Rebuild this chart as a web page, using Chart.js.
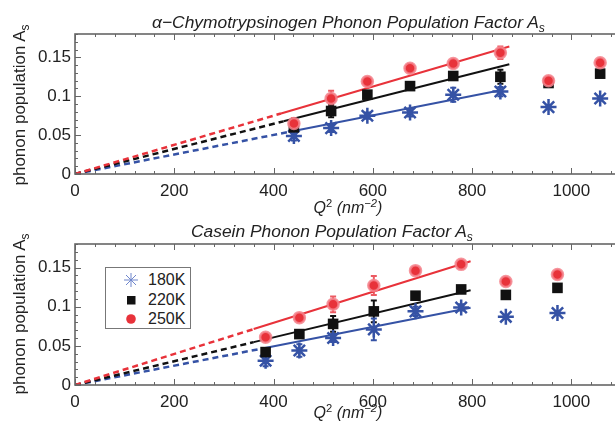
<!DOCTYPE html>
<html>
<head>
<meta charset="utf-8">
<script src="https://cdn.jsdelivr.net/npm/chart.js@4/dist/chart.umd.min.js"></script>
<style>
body { margin: 0; width: 615px; height: 429px; overflow: hidden; background: #fff; position: relative; font-family: "Liberation Sans", Arial, sans-serif; color: #222; }
.panel { position: absolute; left: 0; width: 640px; }
#topPanel { top: 0; height: 215px; }
#bottomPanel { top: 215px; height: 214px; }
.title { position: absolute; font-style: italic; font-size: 17.4px; line-height: 20px; white-space: nowrap; }
.xlabel { position: absolute; font-size: 16px; white-space: nowrap; transform: translate(-50%, -50%); }
.ylabel { position: absolute; font-size: 17px; white-space: nowrap; transform: translate(-50%, -50%) rotate(-90deg); }
sub, sup { font-size: 70%; line-height: 0; }
#legend { position: absolute; left: 105px; top: 267px; width: 84px; height: 60px; border: 1.5px solid #777; background: #fff; font-size: 16px; }
.row { position: absolute; left: 0; height: 18px; line-height: 18px; }
.row svg { position: absolute; left: 16px; top: 0; }
.row span { position: absolute; left: 42px; }
</style>
</head>
<body>
<div id="topPanel" class="panel"><canvas id="chymoChart"></canvas></div>
<div id="bottomPanel" class="panel"><canvas id="caseinChart"></canvas></div>

<div class="title" style="left:152px; top:12px;">α−Chymotrypsinogen Phonon Population Factor A<sub>s</sub></div>
<div class="title" style="left:191px; top:221px;">Casein Phonon Population Factor A<sub>s</sub></div>
<div class="xlabel" style="left:348px; top:208px;"><i>Q</i><sup>2</sup> <i>(nm<sup>−2</sup>)</i></div>
<div class="xlabel" style="left:348px; top:413px;"><i>Q</i><sup>2</sup> <i>(nm<sup>−2</sup>)</i></div>
<div class="ylabel" style="left:20px; top:105px;">phonon population A<sub>s</sub></div>
<div class="ylabel" style="left:20px; top:314px;">phonon population A<sub>s</sub></div>

<div id="legend">
    <div class="row" style="top:3px;"><svg width="18" height="18"><g stroke="#6f86cc" stroke-width="1"><line x1="9" y1="2" x2="9" y2="16"/><line x1="2" y1="9" x2="16" y2="9"/><line x1="4" y1="4" x2="14" y2="14"/><line x1="4" y1="14" x2="14" y2="4"/></g></svg><span>180K</span></div>
    <div class="row" style="top:22.5px;"><svg width="18" height="18"><rect x="5" y="5" width="8.5" height="8.5" fill="#111"/></svg><span>220K</span></div>
    <div class="row" style="top:42px;"><svg width="18" height="18"><circle cx="9" cy="9" r="4.8" fill="#e8323a"/></svg><span>250K</span></div>
</div>

<script>
// alpha-chymotrypsinogen (top panel)
var chymoQ2 = [441, 516, 589, 675, 762, 857, 954, 1058];
var chymo180 = [0.049, 0.059, 0.075, 0.079, 0.102, 0.106, 0.086, 0.097];
var chymo220 = [0.060, 0.081, 0.102, 0.113, 0.126, 0.125, 0.117, 0.129];
var chymo250 = [0.065, 0.097, 0.119, 0.136, 0.142, 0.156, 0.120, 0.143];
var chymoErr180 = [0.006, 0.005, 0.004, 0.005, 0.009, 0.006, 0, 0];
var chymoErr220 = [0.005, 0.008, 0.004, 0.004, 0.004, 0.009, 0, 0];
var chymoErr250 = [0.007, 0.010, 0.005, 0.005, 0.004, 0.008, 0, 0];
var chymoFit180 = [[0, 0], [430, 0.054], [860, 0.108]];
var chymoFit220 = [[0, 0], [420, 0.0677], [875, 0.141]];
var chymoFit250 = [[0, 0], [415, 0.0778], [875, 0.164]];

// casein (bottom panel)
var caseinQ2 = [384, 452, 520, 602, 686, 778, 868, 972];
var casein180 = [0.031, 0.044, 0.060, 0.071, 0.094, 0.099, 0.087, 0.092];
var casein220 = [0.042, 0.065, 0.078, 0.094, 0.114, 0.122, 0.115, 0.124];
var casein250 = [0.061, 0.086, 0.103, 0.127, 0.146, 0.154, 0.132, 0.141];
var caseinErr180 = [0.007, 0.008, 0.005, 0.014, 0.006, 0.004, 0, 0];
var caseinErr220 = [0.005, 0.004, 0.010, 0.014, 0.004, 0.004, 0, 0];
var caseinErr250 = [0.004, 0.003, 0.010, 0.012, 0.004, 0.002, 0, 0];
var caseinFit180 = [[0, 0], [375, 0.0463], [797, 0.0985]];
var caseinFit220 = [[0, 0], [360, 0.0547], [797, 0.121]];
var caseinFit250 = [[0, 0], [360, 0.0714], [797, 0.158]];

var xTicks = [0, 200, 400, 600, 800, 1000];
var yTicks = [0, 0.05, 0.1, 0.15];

var colors = { c180: "#3552a5", c220: "#111111", c250: "#e8323a", halo: "rgba(244,130,140,0.85)" };

function toPoints(xs, ys)
{
    var pts = [];
    for (var i = 0; i < xs.length; i++)
    {
        pts.push({ x: xs[i], y: ys[i] });
    }
    return pts;
}

function fitSegment(fit, a, b)
{
    return [{ x: fit[a][0], y: fit[a][1] }, { x: fit[b][0], y: fit[b][1] }];
}

// error bars and inward ticks + frame, all placed through the chart scales
var errorBarPlugin = {
    id: "errorBars",
    beforeDatasetsDraw: function (chart)
    {
        var ctx = chart.ctx;
        var xs = chart.scales.x, ys = chart.scales.y;
        chart.data.datasets.forEach(function (ds)
        {
            if (!ds.errors) return;
            ctx.save();
            ctx.strokeStyle = ds.errColor;
            ctx.lineWidth = 2;
            ds.data.forEach(function (p, i)
            {
                var e = ds.errors[i];
                if (!e) return;
                var px = xs.getPixelForValue(p.x);
                var y1 = ys.getPixelForValue(p.y - e);
                var y2 = ys.getPixelForValue(p.y + e);
                ctx.beginPath();
                ctx.moveTo(px, y1); ctx.lineTo(px, y2);
                ctx.moveTo(px - 3, y1); ctx.lineTo(px + 3, y1);
                ctx.moveTo(px - 3, y2); ctx.lineTo(px + 3, y2);
                ctx.stroke();
            });
            ctx.restore();
        });
    }
};

var framePlugin = {
    id: "frame",
    afterDraw: function (chart)
    {
        var ctx = chart.ctx;
        var a = chart.chartArea;
        var xs = chart.scales.x, ys = chart.scales.y;
        ctx.save();
        ctx.strokeStyle = "#666";
        ctx.lineWidth = 1;
        ctx.beginPath();
        for (var v = 0; v <= xs.max; v += 40)
        {
            var len = (v % 200 === 0) ? 6 : 3;
            var px = Math.round(xs.getPixelForValue(v)) + 0.5;
            ctx.moveTo(px, a.bottom); ctx.lineTo(px, a.bottom - len);
            ctx.moveTo(px, a.top); ctx.lineTo(px, a.top + len);
        }
        for (var k = 0; k <= 18; k++)
        {
            var l2 = (k % 5 === 0) ? 6 : 3;
            var py = Math.round(ys.getPixelForValue(k / 100)) + 0.5;
            ctx.moveTo(a.left, py); ctx.lineTo(a.left + l2, py);
        }
        ctx.stroke();
        ctx.lineWidth = 1.6;
        ctx.strokeRect(a.left, a.top, a.right - a.left, a.bottom - a.top);
        ctx.restore();
    }
};

function makePanel(canvasId, q2, s180, s220, s250, e180, e220, e250, f180, f220, f250, padTop, axisHeight)
{
    var dashed = { showLine: true, pointRadius: 0, borderWidth: 2.5, borderDash: [6, 4], fill: false };
    var solid = { showLine: true, pointRadius: 0, borderWidth: 2, fill: false };
    var datasets = [
        { label: "250K", data: toPoints(q2, s250), pointStyle: "circle", pointRadius: 5.5, backgroundColor: colors.c250, borderColor: colors.halo, borderWidth: 2.5, errors: e250, errColor: "#ec5a62" },
        { label: "220K", data: toPoints(q2, s220), pointStyle: "rect", pointRadius: 7.5, backgroundColor: colors.c220, borderColor: colors.c220, borderWidth: 0, errors: e220, errColor: colors.c220 },
        { label: "180K", data: toPoints(q2, s180), pointStyle: "star", pointRadius: 8, backgroundColor: colors.c180, borderColor: colors.c180, borderWidth: 2.5, errors: e180, errColor: colors.c180 }
    ];
    [[f250, colors.c250], [f220, colors.c220], [f180, colors.c180]].forEach(function (f)
    {
        datasets.push(Object.assign({ data: fitSegment(f[0], 1, 2), borderColor: f[1] }, solid));
        datasets.push(Object.assign({ data: fitSegment(f[0], 0, 1), borderColor: f[1] }, dashed));
    });

    return new Chart(document.getElementById(canvasId), {
        type: "scatter",
        data: { datasets: datasets },
        plugins: [errorBarPlugin, framePlugin],
        options: {
            responsive: true,
            maintainAspectRatio: false,
            animation: false,
            layout: { padding: { left: 0, top: padTop, right: 19, bottom: 0 } },
            plugins: { legend: { display: false }, tooltip: { enabled: false } },
            scales: {
                x: {
                    type: "linear", min: 0, max: 1100,
                    afterFit: function (s) { s.height = axisHeight; },
                    afterBuildTicks: function (s) { s.ticks = xTicks.map(function (v) { return { value: v }; }); },
                    grid: { display: false, drawTicks: false },
                    border: { display: false },
                    ticks: { padding: 7, color: "#222", font: { family: "Liberation Sans", size: 17 }, callback: function (v) { return String(v); } }
                },
                y: {
                    type: "linear", min: 0, max: 0.18,
                    afterFit: function (s) { s.width = 75; },
                    afterBuildTicks: function (s) { s.ticks = yTicks.map(function (v) { return { value: v }; }); },
                    grid: { display: false, drawTicks: false },
                    border: { display: false },
                    ticks: { padding: 4, color: "#222", font: { family: "Liberation Sans", size: 17 }, callback: function (v) { return String(+v.toFixed(2)); } }
                }
            }
        }
    });
}

makePanel("chymoChart", chymoQ2, chymo180, chymo220, chymo250, chymoErr180, chymoErr220, chymoErr250, chymoFit180, chymoFit220, chymoFit250, 34, 41);
makePanel("caseinChart", caseinQ2, casein180, casein220, casein250, caseinErr180, caseinErr220, caseinErr250, caseinFit180, caseinFit220, caseinFit250, 29, 44);
</script>
</body>
</html>
